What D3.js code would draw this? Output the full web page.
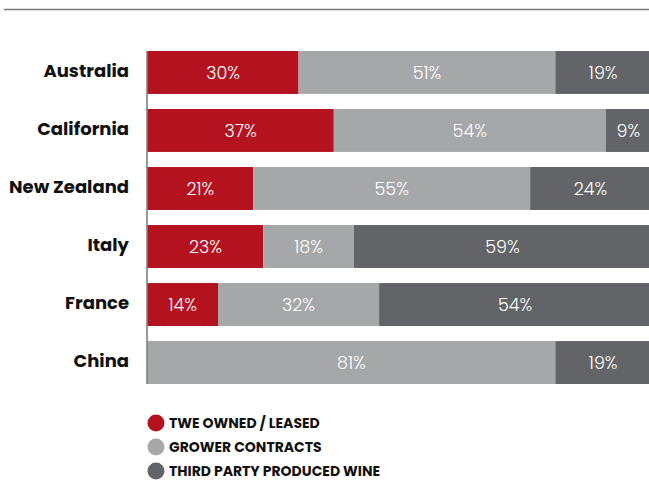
<!DOCTYPE html>
<html>
<head>
<meta charset="utf-8">
<script src="https://cdn.jsdelivr.net/npm/d3@7"></script>
<style>
  html, body { margin: 0; padding: 0; background: #fff; }
  svg { display: block; }
</style>
</head>
<body>
<svg id="chart" width="649" height="481"></svg>
<script>
// Vineyard sourcing mix by region (percent of intake)
const regions = ["Australia", "California", "New Zealand", "Italy", "France", "China"];
const owned   = [30, 37, 21, 23, 14, 0];
const grower  = [51, 54, 55, 18, 32, 81];
const thirdParty = [19, 9, 24, 59, 54, 19];
const seriesNames = ["TWE OWNED / LEASED", "GROWER CONTRACTS", "THIRD PARTY PRODUCED WINE"];
const seriesColors = ["#b5121f", "#a5a7a9", "#636467"];

const rows = regions.map((r, i) => ({ region: r, owned: owned[i], grower: grower[i], third: thirdParty[i] }));
const keys = ["owned", "grower", "third"];

const svg = d3.select("#chart");
const labelFont = "Poppins, Lato, 'Open Sans', sans-serif";

// top rule
svg.append("line")
  .attr("x1", 4).attr("x2", 649).attr("y1", 9.5).attr("y2", 9.5)
  .attr("stroke", "#7a7a7a").attr("stroke-width", 1.6);

const x = d3.scaleLinear().domain([0, 100]).range([147.5, 651]);
const y = d3.scaleBand().domain(regions).range([51, 384]).paddingInner(0.26).paddingOuter(0);

const stack = d3.stack().keys(keys)(rows);

const layers = svg.append("g").selectAll("g")
  .data(stack).join("g")
  .attr("fill", (d, i) => seriesColors[i]);

layers.selectAll("rect")
  .data(d => d)
  .join("rect")
  .attr("x", d => x(d[0]))
  .attr("y", d => y(d.data.region))
  .attr("width", d => x(d[1]) - x(d[0]))
  .attr("height", y.bandwidth());

// value labels inside segments
layers.selectAll("text")
  .data(d => d.filter(s => s[1] - s[0] > 0))
  .join("text")
  .attr("x", d => (x(d[0]) + x(d[1])) / 2)
  .attr("y", d => y(d.data.region) + y.bandwidth() / 2)
  .attr("dy", "0.36em")
  .attr("text-anchor", "middle")
  .attr("fill", "#fff")
  .attr("font-family", labelFont)
  .attr("font-weight", 300)
  .attr("font-size", 17.5)
  .text(d => (d[1] - d[0]) + "%");

// category axis
const yAxis = svg.append("g")
  .attr("transform", "translate(147,0)")
  .call(d3.axisLeft(y).tickSize(0).tickPadding(18));
yAxis.select(".domain").attr("stroke", "#555").attr("stroke-width", 1.2).attr("d", "M0,51V384");
yAxis.selectAll("text")
  .attr("font-family", labelFont)
  .attr("font-weight", 700)
  .attr("font-size", 18)
  .attr("dy", "0.25em")
  .attr("fill", "#111");

// legend
const legend = svg.append("g").selectAll("g")
  .data(seriesNames).join("g")
  .attr("transform", (d, i) => `translate(156, ${423 + i * 24})`);
legend.append("circle").attr("r", 8.5).attr("fill", (d, i) => seriesColors[i]);
legend.append("text")
  .attr("x", 13)
  .attr("dy", "0.36em")
  .attr("font-family", labelFont)
  .attr("font-weight", 700)
  .attr("font-size", 14)
  .attr("fill", "#111")
  .text(d => d);
</script>
</body>
</html>
